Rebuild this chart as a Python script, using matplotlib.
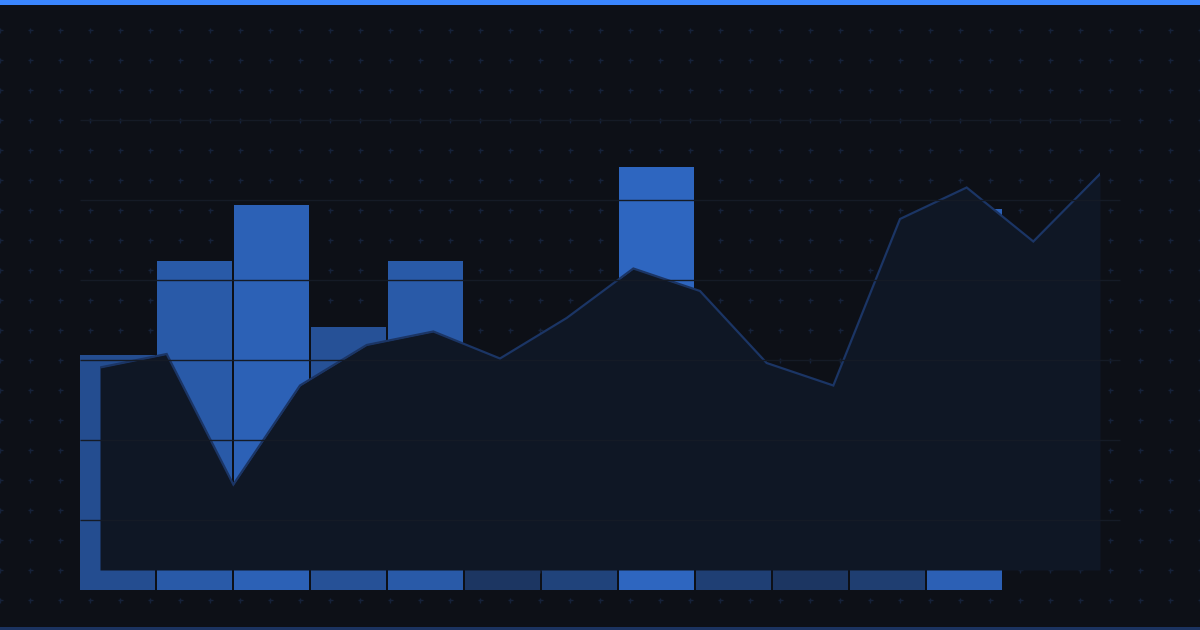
import numpy as np
import matplotlib
matplotlib.use("Agg")
import matplotlib.pyplot as plt
from matplotlib.colors import to_rgb

# bar series (12 columns), values on a 0-100 scale
bar_values = [50, 70, 82, 56, 70, 12, 33, 90, 27, 12, 25, 81]

# area series (16 points), values on a 0-100 scale
area_values = [45, 48, 19, 41, 50, 53, 47, 56, 67, 62, 46, 41, 78, 85, 73, 88]

BG = "#0d1017"
BLUE = "#3a86ff"
AREA_FILL = "#0f1725"
AREA_EDGE = "#1b3565"
GRID = "#151b26"
DOT = "#16223a"

W, H = 1200, 630


def px_rect(left, top, right, bottom):
    """figure fraction rect from pixel box"""
    return [left / W, (H - bottom) / H, (right - left) / W, (bottom - top) / H]


def bar_color(v):
    # brightness follows the value, blended onto the background
    a = 0.26 + 0.0052 * v
    bg = np.array(to_rgb(BG))
    fg = np.array(to_rgb(BLUE))
    return tuple(bg + a * (fg - bg))


fig = plt.figure(figsize=(12, 6.3), dpi=100, facecolor=BG)

# background: dot pattern, top accent, bottom rule
ax_bg = fig.add_axes([0, 0, 1, 1], zorder=0)
ax_bg.set_xlim(0, W)
ax_bg.set_ylim(H, 0)
ax_bg.axis("off")
ax_bg.set_facecolor(BG)
gx, gy = np.meshgrid(np.arange(0, W + 1, 30), np.arange(30, H, 30))
ax_bg.plot(gx.ravel(), gy.ravel(), "+", color=DOT, markersize=3.6, mew=1.0, linestyle="none")
ax_bg.axhspan(0, 5, color=BLUE, lw=0)
ax_bg.axhspan(627, 630, color="#1b3360", lw=0)

# bars
ax_bar = fig.add_axes(px_rect(80, 120, 1004, 590), zorder=1)
ax_bar.patch.set_alpha(0)
x_bar = np.arange(len(bar_values))
ax_bar.bar(x_bar, bar_values, width=75 / 77, align="edge",
           color=[bar_color(v) for v in bar_values], linewidth=0)
ax_bar.set_xlim(0, len(bar_values))
ax_bar.set_ylim(0, 100)
ax_bar.axis("off")

# area
ax_area = fig.add_axes(px_rect(100, 120, 1100, 570), zorder=2)
ax_area.patch.set_alpha(0)
x_area = np.arange(len(area_values))
ax_area.fill_between(x_area, 0, area_values, color=AREA_FILL, linewidth=0)
ax_area.plot(x_area, area_values, color=AREA_EDGE, linewidth=1.6, solid_joinstyle="miter")
ax_area.set_xlim(0, len(area_values) - 1)
ax_area.set_ylim(0, 100)
ax_area.axis("off")

# horizontal guide lines on top
ax_grid = fig.add_axes([0, 0, 1, 1], zorder=3)
ax_grid.patch.set_alpha(0)
ax_grid.set_xlim(0, W)
ax_grid.set_ylim(H, 0)
ax_grid.axis("off")
ax_grid.hlines(np.arange(120, 521, 80), 80, 1120, color=GRID, linewidth=1)

fig.savefig("out.png", dpi=100, facecolor=BG)
